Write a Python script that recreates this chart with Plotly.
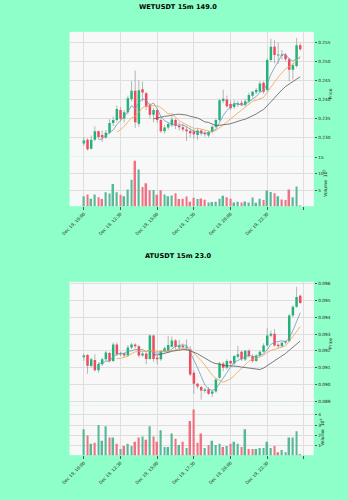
import pandas as pd
import plotly.graph_objects as go

# ---------------- data ----------------
tick_idx = [0, 10, 20, 30, 40, 50, 60]
tick_labels = ["Dec 19, 10:00", "Dec 19, 12:30", "Dec 19, 15:00", "Dec 19, 17:30",
               "Dec 19, 20:00", "Dec 19, 22:30", ""]

wet_title = "WETUSDT 15m 149.0"
wet_open = [.2284, .2294, .2270, .2294, .2316, .2306, .2300, .2312, .2338, .2346,
            .2372, .2350, .2366, .2401, .2423, .2336, .2427, .2416, .2386, .2360,
            .2372, .2346, .2316, .2326, .2332, .2346, .2331, .2327, .2321, .2317,
            .2316, .2306, .2318, .2312, .2305, .2314, .2328, .2346, .2396, .2400,
            .2388, .2380, .2386, .2391, .2386, .2395, .2410, .2419, .2421, .2444,
            .2425, .2504, .2539, .2516, .2518, .2518, .2506, .2478, .2488, .2543]
wet_high = [.2300, .2298, .2305, .2329, .2318, .2318, .2320, .2348, .2355, .2384,
            .2380, .2372, .2410, .2448, .2476, .2450, .2447, .2420, .2390, .2378,
            .2376, .2350, .2332, .2340, .2356, .2350, .2340, .2336, .2330, .2326,
            .2322, .2325, .2322, .2318, .2318, .2332, .2350, .2402, .2426, .2410,
            .2398, .2398, .2396, .2398, .2402, .2418, .2422, .2430, .2448, .2448,
            .2508, .2560, .2556, .2550, .2530, .2522, .2510, .2495, .2562, .2548]
wet_low = [.2278, .2265, .2268, .2290, .2296, .2288, .2296, .2308, .2330, .2340,
           .2343, .2340, .2360, .2395, .2325, .2328, .2395, .2372, .2350, .2340,
           .2338, .2312, .2310, .2320, .2328, .2322, .2318, .2315, .2291, .2300,
           .2296, .2294, .2305, .2302, .2300, .2310, .2325, .2342, .2390, .2378,
           .2372, .2375, .2380, .2382, .2380, .2390, .2405, .2414, .2418, .2415,
           .2420, .2498, .2495, .2494, .2505, .2500, .2448, .2452, .2484, .2528]
wet_close = [.2292, .2269, .2294, .2316, .2301, .2300, .2312, .2338, .2346, .2375,
             .2349, .2366, .2403, .2423, .2340, .2424, .2418, .2381, .2360, .2372,
             .2346, .2316, .2326, .2335, .2347, .2331, .2327, .2321, .2316, .2311,
             .2308, .2318, .2310, .2308, .2314, .2328, .2346, .2398, .2402, .2382,
             .2377, .2389, .2390, .2386, .2395, .2412, .2420, .2425, .2442, .2420,
             .2504, .2539, .2517, .2518, .2515, .2506, .2478, .2490, .2543, .2532]
wet_volume = [3.2, 3.7, 2.4, 3.7, 2.9, 2.3, 4.4, 4.0, 6.9, 4.4,
              3.6, 3.2, 5.2, 8.2, 14.0, 11.3, 6.0, 7.1, 5.0, 5.1,
              3.6, 5.0, 3.7, 3.2, 3.4, 4.1, 2.3, 2.4, 3.1, 1.5,
              2.7, 2.3, 2.5, 2.1, 1.3, 1.4, 1.5, 2.4, 3.3, 2.9,
              2.4, 1.3, 1.5, 1.3, 1.6, 1.3, 2.8, 1.2, 2.4, 2.0,
              4.9, 4.5, 4.1, 3.2, 2.2, 2.0, 5.2, 2.9, 6.1, 0.2]
wet_price_ticks = [0.230, 0.235, 0.240, 0.245, 0.250, 0.255]
wet_vol_ticks = [5, 10, 15]
wet_vol_exp = "5"

at_title = "ATUSDT 15m 23.0"
at_open = [.09162, .09176, .09110, .09146, .09085, .09120, .09150, .09188, .09140, .09238,
           .09178, .09186, .09172, .09220, .09238, .09228, .09172, .09185, .09152, .09292,
           .09160, .09150, .09198, .09198, .09225, .09262, .09220, .09230, .09218, .09210,
           .09070, .09004, .08985, .08962, .08972, .08945, .08958, .09040, .09125, .09100,
           .09140, .09125, .09165, .09195, .09148, .09200, .09168, .09140, .09172, .09195,
           .09232, .09290, .09302, .09236, .09228, .09250, .09258, .09410, .09462, .09528]
at_high = [.09182, .09182, .09160, .09180, .09130, .09160, .09200, .09195, .09250, .09250,
           .09195, .09192, .09235, .09248, .09245, .09236, .09195, .09190, .09298, .09296,
           .09175, .09205, .09225, .09290, .09285, .09270, .09265, .09245, .09268, .09228,
           .09085, .09010, .08992, .08980, .08985, .08968, .09040, .09135, .09135, .09150,
           .09145, .09175, .09230, .09200, .09205, .09210, .09180, .09180, .09200, .09245,
           .09335, .09320, .09330, .09245, .09255, .09262, .09420, .09470, .09580, .09535]
at_low = [.09140, .09064, .09100, .09078, .09070, .09110, .09140, .09130, .09135, .09170,
          .09168, .09160, .09165, .09210, .09215, .09160, .09165, .09120, .09148, .09135,
          .09120, .09140, .09190, .09195, .09220, .09210, .09205, .09210, .09200, .09050,
          .08945, .08975, .08910, .08950, .08938, .08925, .08950, .09035, .09080, .09090,
          .09110, .09115, .09155, .09140, .09140, .09160, .09130, .09135, .09165, .09190,
          .09225, .09280, .09225, .09215, .09220, .09240, .09250, .09400, .09455, .09480]
at_close = [.09172, .09112, .09150, .09085, .09122, .09150, .09190, .09140, .09238, .09180,
            .09186, .09172, .09220, .09238, .09228, .09172, .09185, .09152, .09292, .09152,
            .09150, .09198, .09215, .09235, .09262, .09225, .09230, .09222, .09225, .09060,
            .09004, .08988, .08964, .08970, .08945, .08958, .09030, .09125, .09100, .09140,
            .09125, .09170, .09180, .09150, .09200, .09168, .09140, .09172, .09195, .09232,
            .09292, .09302, .09232, .09228, .09248, .09258, .09410, .09462, .09520, .09484]
at_volume = [2.6, 2.0, 1.2, 1.3, 3.0, 1.5, 2.9, 1.8, 1.8, 1.2,
             0.7, 1.0, 1.2, 1.0, 1.4, 1.8, 1.9, 1.6, 2.9, 1.9,
             1.4, 2.5, 0.9, 0.9, 2.2, 1.7, 1.1, 1.4, 0.8, 3.4,
             4.5, 1.3, 2.2, 0.8, 1.1, 1.5, 1.1, 1.2, 0.9, 1.0,
             1.2, 1.4, 1.2, 0.9, 2.6, 0.7, 0.7, 0.7, 0.8, 0.8,
             1.4, 0.8, 1.0, 0.4, 0.6, 0.4, 1.8, 1.8, 2.4, 0.2]
at_price_ticks = [0.089, 0.090, 0.091, 0.092, 0.093, 0.094, 0.095, 0.096]
at_vol_ticks = [1, 2, 3, 4]
at_vol_exp = "6"

mav_periods = [5, 10, 20]

# ---------------- style ----------------
W, H = 348, 500
FIG_BG = "#8effc8"
PLOT_BG = "#f8f8f8"
GRID = "#dedede"
UP, DOWN = "#22b37a", "#f04a5e"
VUP, VDOWN = "#55b896", "#f07282"
WICK = "#9a9a9a"
MAV_COLORS = ["#6c9ab8", "#f2a250", "#5a5a5a"]
FONT = "DejaVu Sans"
XL, XR = 63, 313
XRANGE = [-3.9, 62.7]


def py(px):
    return 1 - px / H


fig = go.Figure()
layout = {}
annotations = []


def segs(xs, y0s, y1s):
    X, Y = [], []
    for x, a, b in zip(xs, y0s, y1s):
        X += [x, x, None]
        Y += [a, b, None]
    return X, Y


def add_chart(n, title, o, h, l, c, v, pticks, vticks, vexp, top, split, bottom, title_y,
              prange, vrange, price_lab_x, vol_lab_x):
    xa_p, ya_p = f"x{2*n-1}", f"y{2*n-1}"
    xa_v, ya_v = f"x{2*n}", f"y{2*n}"
    idx = list(range(len(o)))
    up = [cc >= oo for oo, cc in zip(o, c)]
    min_h = 0.8 * (prange[1] - prange[0]) / (split - top)
    # wicks
    X, Y = segs(idx, l, h)
    fig.add_trace(go.Scatter(x=X, y=Y, mode="lines", line=dict(color=WICK, width=0.7),
                             xaxis=xa_p, yaxis=ya_p, hoverinfo="skip", showlegend=False))
    # bodies
    for want, col in ((True, UP), (False, DOWN)):
        sel = [i for i in idx if up[i] == want]
        lo = [min(o[i], c[i]) for i in sel]
        hi = [max(max(o[i], c[i]), min(o[i], c[i]) + min_h) for i in sel]
        X, Y = segs(sel, lo, hi)
        fig.add_trace(go.Scatter(x=X, y=Y, mode="lines", line=dict(color=col, width=2.5),
                                 xaxis=xa_p, yaxis=ya_p, hoverinfo="skip", showlegend=False))
    # moving averages
    cs = pd.Series(c)
    for p, col in zip(mav_periods, MAV_COLORS):
        fig.add_trace(go.Scatter(x=idx, y=cs.rolling(p).mean(), mode="lines",
                                 line=dict(color=col, width=0.8), xaxis=xa_p, yaxis=ya_p,
                                 hoverinfo="skip", showlegend=False))
    # volume
    fig.add_trace(go.Bar(x=idx, y=v, width=0.45,
                         marker=dict(color=[VUP if u else VDOWN for u in up], line_width=0),
                         xaxis=xa_v, yaxis=ya_v, hoverinfo="skip", showlegend=False))

    xdom = [XL / W, XR / W]
    common_x = dict(domain=xdom, range=XRANGE, tickmode="array", tickvals=tick_idx,
                    showgrid=True, gridcolor=GRID, gridwidth=0.6, zeroline=False,
                    showline=False)
    layout[f"xaxis{2*n-1}"] = dict(common_x, anchor=ya_p, showticklabels=False, ticks="")
    layout[f"xaxis{2*n}"] = dict(common_x, anchor=ya_v, ticktext=tick_labels,
                                 showticklabels=True, ticks="outside", ticklen=2.5,
                                 tickwidth=0.6, tickcolor="#555", tickangle=-45,
                                 tickfont=dict(family=FONT, size=4.3, color="#222"))
    common_y = dict(side="right", showgrid=True, gridcolor=GRID, gridwidth=0.6,
                    zeroline=False, showline=False, ticks="outside", ticklen=2.5,
                    tickwidth=0.6, tickcolor="#555", tickmode="array",
                    tickfont=dict(family=FONT, size=4.3, color="#222"))
    layout[f"yaxis{2*n-1}"] = dict(common_y, anchor=xa_p, domain=[py(split), py(top)],
                                   range=prange, tickvals=pticks,
                                   ticktext=[f"{t:.3f}" for t in pticks])
    layout[f"yaxis{2*n}"] = dict(common_y, anchor=xa_v, domain=[py(bottom), py(split)],
                                 range=vrange, tickvals=vticks,
                                 ticktext=[str(t) for t in vticks])
    annotations.append(dict(text=f"<b>{title}</b>", x=0.5, y=py(title_y), xref="paper",
                            yref="paper", showarrow=False, xanchor="center", yanchor="middle",
                            font=dict(family=FONT, size=6.6, color="#000")))
    annotations.append(dict(text="Price", x=price_lab_x / W, y=py((top + split) / 2),
                            xref="paper", yref="paper", showarrow=False, textangle=-90,
                            xanchor="center", yanchor="middle",
                            font=dict(family=FONT, size=4.5, color="#222")))
    annotations.append(dict(text=f"Volume  10<sup>{vexp}</sup>", x=vol_lab_x / W,
                            y=py((split + bottom) / 2 + 2), xref="paper", yref="paper",
                            showarrow=False, textangle=-90, xanchor="center", yanchor="middle",
                            font=dict(family=FONT, size=4.5, color="#222")))


add_chart(1, wet_title, wet_open, wet_high, wet_low, wet_close, wet_volume,
          wet_price_ticks, wet_vol_ticks, wet_vol_exp,
          top=30, split=155, bottom=205, title_y=4.7,
          prange=[0.2250, 0.2578], vrange=[0.15, 15.3],
          price_lab_x=330, vol_lab_x=325)
add_chart(2, at_title, at_open, at_high, at_low, at_close, at_volume,
          at_price_ticks, at_vol_ticks, at_vol_exp,
          top=281, split=405, bottom=455, title_y=254.7,
          prange=[0.08876, 0.09610], vrange=[0.115, 4.89],
          price_lab_x=330, vol_lab_x=322)

fig.update_layout(**layout)
fig.update_layout(width=W, height=H, margin=dict(l=0, r=0, t=0, b=0, pad=0),
                  paper_bgcolor=FIG_BG, plot_bgcolor=PLOT_BG,
                  showlegend=False, annotations=annotations,
                  font=dict(family=FONT, size=5, color="#222"))
fig.write_html("out.html")
